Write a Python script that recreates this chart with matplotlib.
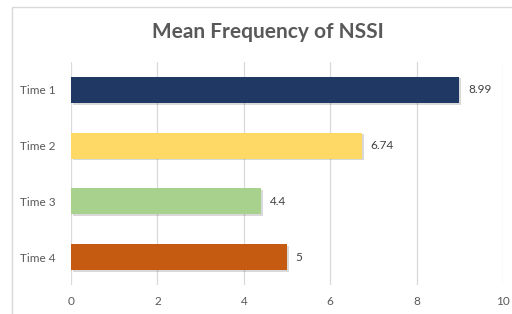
import matplotlib
matplotlib.use("Agg")
import matplotlib.pyplot as plt
import matplotlib.patheffects as pe
from matplotlib.patches import Rectangle

categories = ["Time 1", "Time 2", "Time 3", "Time 4"]
values = [8.99, 6.74, 4.4, 5]
labels = ["8.99", "6.74", "4.4", "5"]
colors = ["#1F3864", "#FFD966", "#A9D18E", "#C55A11"]

plt.rcParams['font.family'] = ['Lato', 'DejaVu Sans']

fig = plt.figure(figsize=(5.12, 3.14), dpi=100)
fig.patches.append(Rectangle((12 / 512, -0.05), 1.0, 1 - 7 / 314 + 0.05,
                             transform=fig.transFigure, fill=False,
                             edgecolor="#D9D9D9", linewidth=1.0))

ax = fig.add_axes([71 / 512, 29 / 314, 432 / 512, 223 / 314])
ypos = list(range(len(categories)))
bars = ax.barh(ypos, values, height=0.47, color=colors, zorder=3)
for b in bars:
    b.set_path_effects([pe.SimplePatchShadow(offset=(1.2, -1.2), shadow_rgbFace="#000000", alpha=0.15),
                        pe.Normal()])

for y, v, lab in zip(ypos, values, labels):
    ax.text(v + 0.2, y, lab, va="center", ha="left", fontsize=8.5, color="#404040")

ax.set_xlim(0, 10)
ax.set_ylim(3.5, -0.5)
ax.set_xticks([0, 2, 4, 6, 8, 10])
ax.set_yticks(ypos)
ax.set_yticklabels(categories)
ax.tick_params(axis="both", length=0, labelsize=8.5, labelcolor="#595959")
ax.tick_params(axis="x", pad=8)
ax.tick_params(axis="y", pad=11)
ax.grid(axis="x", color="#D9D9D9", linewidth=0.9, zorder=0)
for s in ax.spines.values():
    s.set_visible(False)

fig.text(268 / 512, 1 - 32 / 314, "Mean Frequency of NSSI", ha="center", va="center",
         fontsize=15, fontweight="bold", color="#595959")

fig.savefig("out.png", dpi=100)
